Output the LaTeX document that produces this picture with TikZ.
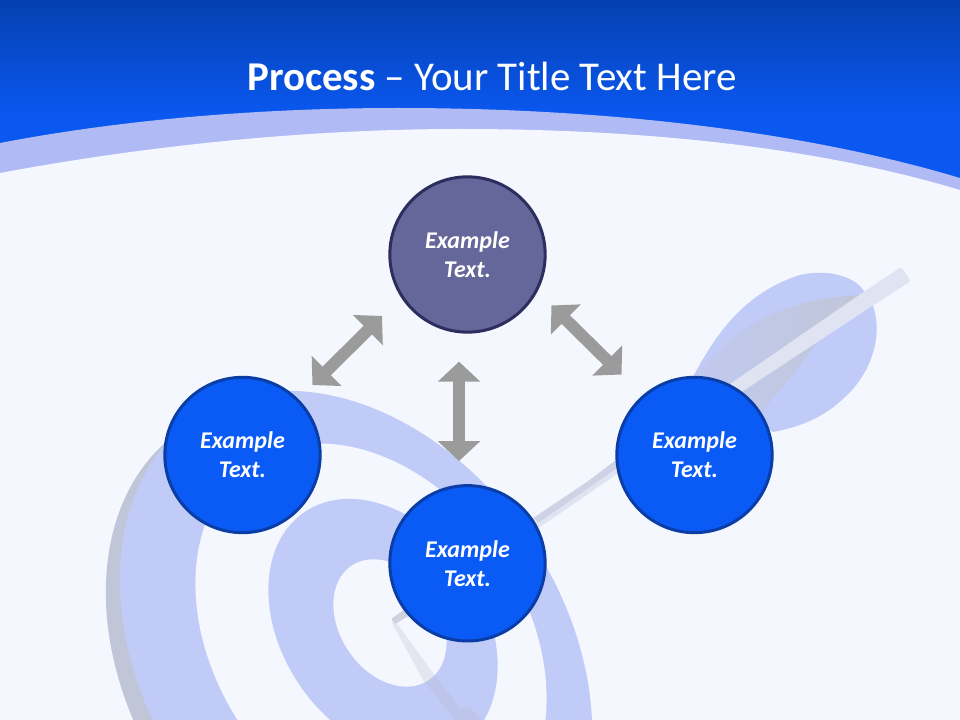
\documentclass[tikz,border=0pt]{standalone}
\usepackage{fontspec}
\setmainfont{Carlito}
\usetikzlibrary{arrows.meta}
\definecolor{pagebg}{HTML}{F4F7FE}
\definecolor{bandblue}{HTML}{B0BBF5}
\definecolor{headtop}{HTML}{0540B0}
\definecolor{headlow}{HTML}{0A58F0}
\definecolor{ringblue}{HTML}{C0CBF8}
\definecolor{ringshade}{HTML}{C0C6D8}
\definecolor{shaftpale}{HTML}{E0E4F2}
\definecolor{shaftdark}{HTML}{CDD2E4}
\definecolor{shafttip}{HTML}{CED2DE}
\definecolor{shadowgray}{HTML}{B8BCC8}
\definecolor{arrowgray}{HTML}{9B9B9B}
\definecolor{topfill}{HTML}{656699}
\definecolor{topline}{HTML}{2E2E5E}
\definecolor{sidefill}{HTML}{0A5AF5}
\definecolor{sideline}{HTML}{0A3DA6}

\begin{document}
\begin{tikzpicture}[x=0.75pt, y=-0.75pt]
    \tikzstyle{circ} = [circle, draw, line width=2.25pt, minimum size=116.5pt, inner sep=0pt, text=white, align=center, font=\fontsize{18}{21.75}\selectfont\bfseries\itshape]
    \tikzstyle{goal} = [circ, fill=topfill, draw=topline]
    \tikzstyle{side} = [circ, fill=sidefill, draw=sideline]
    \tikzstyle{arrow} = [draw=arrowgray, line width=9pt, {Triangle[length=15pt,width=31pt]}-{Triangle[length=15pt,width=31pt]}]
    \tikzstyle{titletext} = [text=white, font=\fontsize{30.7}{36}\selectfont]

    \clip (0,0) rectangle (960,720);
    \fill[pagebg] (0,0) rectangle (960,720);
    \fill[headlow] (0,115) rectangle (960,200);
    \shade[top color=headtop, bottom color=headlow] (0,0) rectangle (960,115);
    \fill[bandblue] (0,143) .. controls (130,118) and (270,108) .. (398,108) .. controls (600,108) and (800,130) .. (960,178) -- (960,260) -- (0,260) -- cycle;
    \fill[pagebg] (0,173) .. controls (150,145) and (310,129) .. (460,129) .. controls (650,129) and (820,148) .. (960,190) -- (960,260) -- (0,260) -- cycle;

    \fill[ringshade, rotate around={-56:(342,668)}] (342,668) ellipse [x radius=287, y radius=209];
    \fill[ringblue, rotate around={-56:(356,656)}] (356,656) ellipse [x radius=287, y radius=209];
    \fill[pagebg, rotate around={-56:(371,641)}] (371,641) ellipse [x radius=214, y radius=155];
    \fill[ringblue, rotate around={-56:(383,628)}] (383,628) ellipse [x radius=140, y radius=101];
    \fill[pagebg, rotate around={-56:(390,623)}] (390,623) ellipse [x radius=69, y radius=50];

    \fill[shadowgray, opacity=0.28] (392,623) -- (396,622) -- (433,673) -- (460,708) -- (470,707) -- (481,720) -- (455,720) -- (423,680) -- cycle;

    \fill[ringblue] (693,377) .. controls (715,335) and (745,292) .. (800,275) .. controls (830,268) and (858,278) .. (865,293) .. controls (885,315) and (880,365) .. (845,397) .. controls (825,417) and (800,427) .. (773,432) -- cycle;
    \shade[left color=ringblue!70!ringshade, right color=ringshade] (697,373) .. controls (725,340) and (770,298) .. (863,295) -- (820,337) .. controls (805,360) and (785,385) .. (760,413) -- cycle;
    \fill[shaftpale, rounded corners=2pt] (901,267) -- (911,281) -- (866,310) -- (620,472) -- (540,527) -- (395,624) -- (391,619) -- (534,517) -- (617,462) -- (862,293) -- cycle;
    \fill[shaftdark] (534,518) -- (587,482) -- (620,457) -- (620,466) -- (538,523) -- cycle;
    \fill[shafttip, rounded corners=1pt] (391,619) -- (425,596) -- (430,603) -- (395,624) -- cycle;

    \node[goal] (goal) at (467.5,254.5) {Example\\Text.};
    \node[side] (left) at (242.5,455) {Example\\Text.};
    \node[side] (mid) at (467.5,563.3) {Example\\Text.};
    \node[side] (right) at (694.5,455) {Example\\Text.};
    \node[titletext] (title) at (492,76) {\textbf{Process} -- Your Title Text Here};

    \draw[arrow] ([shift={(-29.5,5.5)}]goal.225) -- ([shift={(14,-14)}]left.45);
    \draw[arrow] ([shift={(-8.5,28)}]goal.south) -- ([shift={(-8.5,-23)}]mid.north);
    \draw[arrow] ([shift={(28,-5)}]goal.315) -- ([shift={(-17,-24.5)}]right.135);
\end{tikzpicture}
\end{document}
